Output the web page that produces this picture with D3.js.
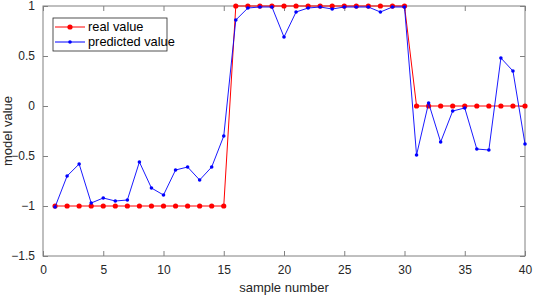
<!DOCTYPE html>
<html>
<head>
<meta charset="utf-8">
<script src="https://cdn.jsdelivr.net/npm/d3@7"></script>
<style>
  body { margin: 0; background: #fff; }
  svg { display: block; font-family: "Liberation Sans", Arial, sans-serif; }
</style>
</head>
<body>
<div id="chart"></div>
<script>
// sample numbers
const samples = d3.range(1, 41);
// real value
const realValues = [
  -1, -1, -1, -1, -1, -1, -1, -1, -1, -1, -1, -1, -1, -1, -1,
  1, 1, 1, 1, 1, 1, 1, 1, 1, 1, 1, 1, 1, 1, 1,
  0, 0, 0, 0, 0, 0, 0, 0, 0, 0
];
// predicted value
const predValues = [
  -1.01, -0.70, -0.58, -0.97, -0.92, -0.95, -0.94, -0.56, -0.82, -0.89,
  -0.64, -0.61, -0.74, -0.61, -0.30,
  0.86, 0.98, 0.99, 0.99, 0.69, 0.94, 0.98, 0.99, 0.97, 0.99,
  0.99, 0.99, 0.94, 0.99, 0.99,
  -0.49, 0.03, -0.36, -0.05, -0.02, -0.43, -0.44, 0.48, 0.35, -0.38
];
const xTicks = [0, 5, 10, 15, 20, 25, 30, 35, 40];
const yTicks = [-1.5, -1, -0.5, 0, 0.5, 1];

const width = 533, height = 296;
const margin = { top: 6, right: 8, bottom: 40, left: 43 };
const w = width - margin.left - margin.right;
const h = height - margin.top - margin.bottom;

const svg = d3.select("#chart").append("svg")
  .attr("width", width)
  .attr("height", height);

const g = svg.append("g")
  .attr("transform", `translate(${margin.left},${margin.top})`);

const x = d3.scaleLinear().domain([0, 40]).range([0, w]);
const y = d3.scaleLinear().domain([-1.5, 1]).range([h, 0]);

const axisColor = "#808080";
const textColor = "#262626";

// axes, ticks inward
function styleAxis(sel, showText) {
  sel.select(".domain").remove();
  sel.selectAll(".tick line").attr("stroke", axisColor);
  sel.selectAll(".tick text")
    .attr("fill", textColor)
    .style("font-size", "12px")
    .style("display", showText ? null : "none");
}

g.append("g")
  .attr("transform", `translate(0,${h})`)
  .call(d3.axisBottom(x).tickValues(xTicks).tickSize(-5).tickPadding(9))
  .call(s => styleAxis(s, true));
g.append("g")
  .call(d3.axisTop(x).tickValues(xTicks).tickSize(-5))
  .call(s => styleAxis(s, false));
g.append("g")
  .call(d3.axisLeft(y).tickValues(yTicks).tickSize(-5).tickPadding(8).tickFormat(d3.format("")))
  .call(s => styleAxis(s, true));
g.append("g")
  .attr("transform", `translate(${w},0)`)
  .call(d3.axisRight(y).tickValues(yTicks).tickSize(-5))
  .call(s => styleAxis(s, false));

g.append("rect")
  .attr("width", w).attr("height", h)
  .attr("fill", "none")
  .attr("stroke", axisColor)
  .attr("stroke-width", 1);

// lines
const line = d3.line()
  .x((d, i) => x(samples[i]))
  .y(d => y(d));

g.append("path")
  .datum(realValues)
  .attr("fill", "none")
  .attr("stroke", "#ff0000")
  .attr("stroke-width", 1)
  .attr("d", line);

g.selectAll(".real")
  .data(realValues)
  .join("circle")
  .attr("class", "real")
  .attr("cx", (d, i) => x(samples[i]))
  .attr("cy", d => y(d))
  .attr("r", 2.6)
  .attr("fill", "#ff0000");

g.append("path")
  .datum(predValues)
  .attr("fill", "none")
  .attr("stroke", "#0000ff")
  .attr("stroke-width", 0.9)
  .attr("d", line);

g.selectAll(".pred")
  .data(predValues)
  .join("circle")
  .attr("class", "pred")
  .attr("cx", (d, i) => x(samples[i]))
  .attr("cy", d => y(d))
  .attr("r", 1.8)
  .attr("fill", "#0000ff");

// legend
const legend = g.append("g").attr("transform", "translate(10,12)");
legend.append("rect")
  .attr("width", 114).attr("height", 33)
  .attr("fill", "#fff")
  .attr("stroke", "#262626")
  .attr("stroke-width", 0.8);

const legendItems = [
  { label: "real value", color: "#ff0000", r: 2.6 },
  { label: "predicted value", color: "#0000ff", r: 1.8 }
];
legendItems.forEach((d, i) => {
  const row = legend.append("g").attr("transform", `translate(0,${9 + i * 15})`);
  row.append("line")
    .attr("x1", 2).attr("x2", 32)
    .attr("stroke", d.color).attr("stroke-width", 1);
  row.append("circle")
    .attr("cx", 17).attr("r", d.r).attr("fill", d.color);
  row.append("text")
    .attr("x", 35).attr("dy", "0.35em")
    .attr("fill", "#000")
    .style("font-size", "12.8px")
    .text(d.label);
});

// axis titles
svg.append("text")
  .attr("x", margin.left + w / 2)
  .attr("y", 292)
  .attr("text-anchor", "middle")
  .attr("fill", textColor)
  .style("font-size", "13px")
  .text("sample number");

svg.append("text")
  .attr("transform", `translate(12,${margin.top + h / 2}) rotate(-90)`)
  .attr("text-anchor", "middle")
  .attr("fill", textColor)
  .style("font-size", "13px")
  .text("model value");
</script>
</body>
</html>
